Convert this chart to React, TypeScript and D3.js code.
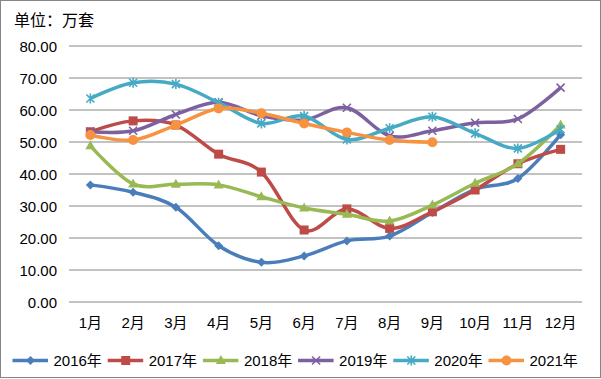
import React from "react";
import * as d3 from "d3";

const months = ["1月","2月","3月","4月","5月","6月","7月","8月","9月","10月","11月","12月"];
const yTicks = [0, 10, 20, 30, 40, 50, 60, 70, 80];
const s2016 = [36.6, 34.3, 29.6, 17.6, 12.4, 14.4, 19.1, 20.6, 28.0, 35.2, 38.6, 52.3];
const s2017 = [53.2, 56.6, 55.3, 46.2, 40.6, 22.5, 29.1, 23.0, 28.2, 35.0, 43.2, 47.7];
const s2018 = [48.8, 36.9, 36.8, 36.6, 32.9, 29.4, 27.4, 25.3, 30.3, 37.1, 43.2, 55.3];
const s2019 = [53.2, 53.5, 58.6, 62.4, 58.2, 56.9, 60.7, 51.9, 53.5, 56.0, 57.2, 67.0];
const s2020 = [63.6, 68.5, 68.1, 62.3, 55.8, 58.1, 50.8, 54.3, 57.9, 52.7, 48.0, 54.0];
const s2021 = [52.2, 50.6, 55.3, 60.5, 59.0, 55.8, 53.0, 50.6, 49.9];

const seriesNames = ["2016年","2017年","2018年","2019年","2020年","2021年"];
const seriesData = [s2016, s2017, s2018, s2019, s2020, s2021];
const colors = ["#4A7EBB", "#BE4B48", "#98B954", "#7D60A0", "#46AAC5", "#F69240"];
const markers = ["diamond", "square", "triangle", "x", "asterisk", "circle"];

function Marker({ type, x, y, color }: { type: string; x: number; y: number; color: string }) {
  const s = 4.5;
  switch (type) {
    case "diamond":
      return <path d={`M${x},${y - s}L${x + s},${y}L${x},${y + s}L${x - s},${y}Z`} fill={color} />;
    case "square":
      return <rect x={x - 4.5} y={y - 4.5} width={9} height={9} fill={color} />;
    case "triangle":
      return <path d={`M${x},${y - 5.5}L${x + 5},${y + 3.5}L${x - 5},${y + 3.5}Z`} fill={color} />;
    case "x":
      return <path d={`M${x - 4},${y - 4}L${x + 4},${y + 4}M${x - 4},${y + 4}L${x + 4},${y - 4}`} stroke={color} strokeWidth={1.6} />;
    case "asterisk":
      return <path d={`M${x - 4},${y - 4}L${x + 4},${y + 4}M${x - 4},${y + 4}L${x + 4},${y - 4}M${x},${y - 5}L${x},${y + 5}`} stroke={color} strokeWidth={1.6} />;
    case "circle":
      return <circle cx={x} cy={y} r={5} fill={color} />;
  }
  return null;
}

export default function App() {
  const W = 601, H = 379;
  const left = 69, right = 582, top = 46, bottom = 302;
  const x = d3.scaleBand<string>().domain(months).range([left, right]);
  const y = d3.scaleLinear().domain([0, 80]).range([bottom, top]);
  const cx = (i: number) => (x(months[i]) as number) + x.bandwidth() / 2;
  const line = d3.line<number>().x((_, i) => cx(i)).y((d) => y(d)).curve(d3.curveCardinal.tension(0));
  const font = "'Liberation Sans', 'Noto Sans CJK SC', sans-serif";

  return (
    <svg width={W} height={H} style={{ position: "absolute", left: 0, top: 0 }} fontFamily={font}>
      <rect x={0.5} y={0.5} width={W - 1} height={H - 2} fill="#fff" stroke="#868686" />
      <text x={14} y={26} fontSize={16} fill="#000">单位：万套</text>
      {yTicks.map((t) => (
        <g key={t}>
          <line x1={left} x2={right} y1={y(t)} y2={y(t)} stroke="#868686" strokeWidth={1} />
          <text x={57} y={y(t) + 5.5} fontSize={15} textAnchor="end" fill="#000">{t.toFixed(2)}</text>
        </g>
      ))}
      {months.map((m, i) => (
        <text key={m} x={cx(i)} y={328} fontSize={15} textAnchor="middle" fill="#000">{m}</text>
      ))}
      {seriesData.map((d, si) => (
        <g key={si}>
          <path d={line(d) || ""} fill="none" stroke={colors[si]} strokeWidth={3.5} strokeLinejoin="round" />
          {d.map((v, i) => (
            <Marker key={i} type={markers[si]} x={cx(i)} y={y(v)} color={colors[si]} />
          ))}
        </g>
      ))}
      {seriesNames.map((n, si) => {
        const lx = 12.5 + si * 95.2;
        const ly = 360.5;
        return (
          <g key={n}>
            <line x1={lx} x2={lx + 35.5} y1={ly} y2={ly} stroke={colors[si]} strokeWidth={3.5} />
            <Marker type={markers[si]} x={lx + 18} y={ly} color={colors[si]} />
            <text x={lx + 41} y={ly + 5.5} fontSize={15} fill="#000">{n}</text>
          </g>
        );
      })}
    </svg>
  );
}
